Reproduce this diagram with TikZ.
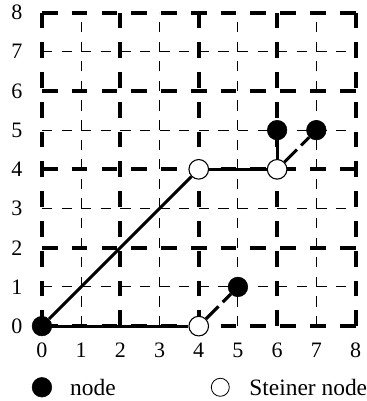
\documentclass[tikz,border=0pt]{standalone}
\usepackage{fontspec}
\setmainfont{Liberation Serif}
\usetikzlibrary{positioning}
\tikzset{
  thingrid/.style={line width=0.7pt, dash pattern=on 0.26cm off 0.24cm},
  thickgrid/.style={line width=2.9pt, dash pattern=on 0.4cm off 0.36cm},
  edge/.style={line width=2.2pt},
  dashededge/.style={line width=2.2pt, dash pattern=on 0.45cm off 0.15cm},
  terminal/.style={circle, fill=black, draw=black, minimum size=0.5cm, inner sep=0pt},
  steiner/.style={circle, fill=white, draw=black, line width=0.8pt, minimum size=0.5cm, inner sep=0pt},
  lbl/.style={font=\fontsize{16}{18}\selectfont, inner sep=1pt},
  leglbl/.style={font=\fontsize{17}{19}\selectfont, inner sep=1pt}
}

\begin{document}
\begin{tikzpicture}
  \useasboundingbox (-1.07,-1.91) rectangle (8.27,8.32);
  % grid
  \foreach \i in {1,3,5,7} {
    \draw[thingrid] (\i,0) -- (\i,8);
    \draw[thingrid] (0,\i) -- (8,\i);
  }
  \foreach \i in {0,2,4,6,8} {
    \draw[thickgrid] (\i,0) -- (\i,8);
    \draw[thickgrid] (0,\i) -- (8,\i);
  }
  % axis labels
  \foreach \i in {0,...,8} {
    \node[lbl] (xl\i) at (\i,-0.62) {\i};
    \node[lbl] (yl\i) at (-0.64,\i) {\i};
  }
  % nodes
  \node[terminal] (t0) at (0,0) {};
  \node[terminal] (t1) at (5,1) {};
  \node[terminal] (t2) at (6,5) {};
  \node[terminal] (t3) at (7,5) {};
  \node[steiner] (s0) at (4,0) {};
  \node[steiner] (s1) at (4,4) {};
  \node[steiner] (s2) at (6,4) {};
  % tree
  \draw[edge] (t0) -- (s0);
  \draw[edge] (t0) -- (s1);
  \draw[edge] (s1) -- (s2);
  \draw[edge] (s2) -- (t2);
  \draw[dashededge] (s0) -- (t1);
  \draw[dashededge] (s2) -- (t3);
  % legend
  \node[terminal] (legt) at (0,-1.56) {};
  \node[leglbl, right=0.42cm of legt] (legtl) {node};
  \node[steiner, minimum size=0.46cm, line width=0.6pt] (legs) at (4.55,-1.56) {};
  \node[leglbl, right=0.46cm of legs] (legsl) {Steiner node};
\end{tikzpicture}
\end{document}
